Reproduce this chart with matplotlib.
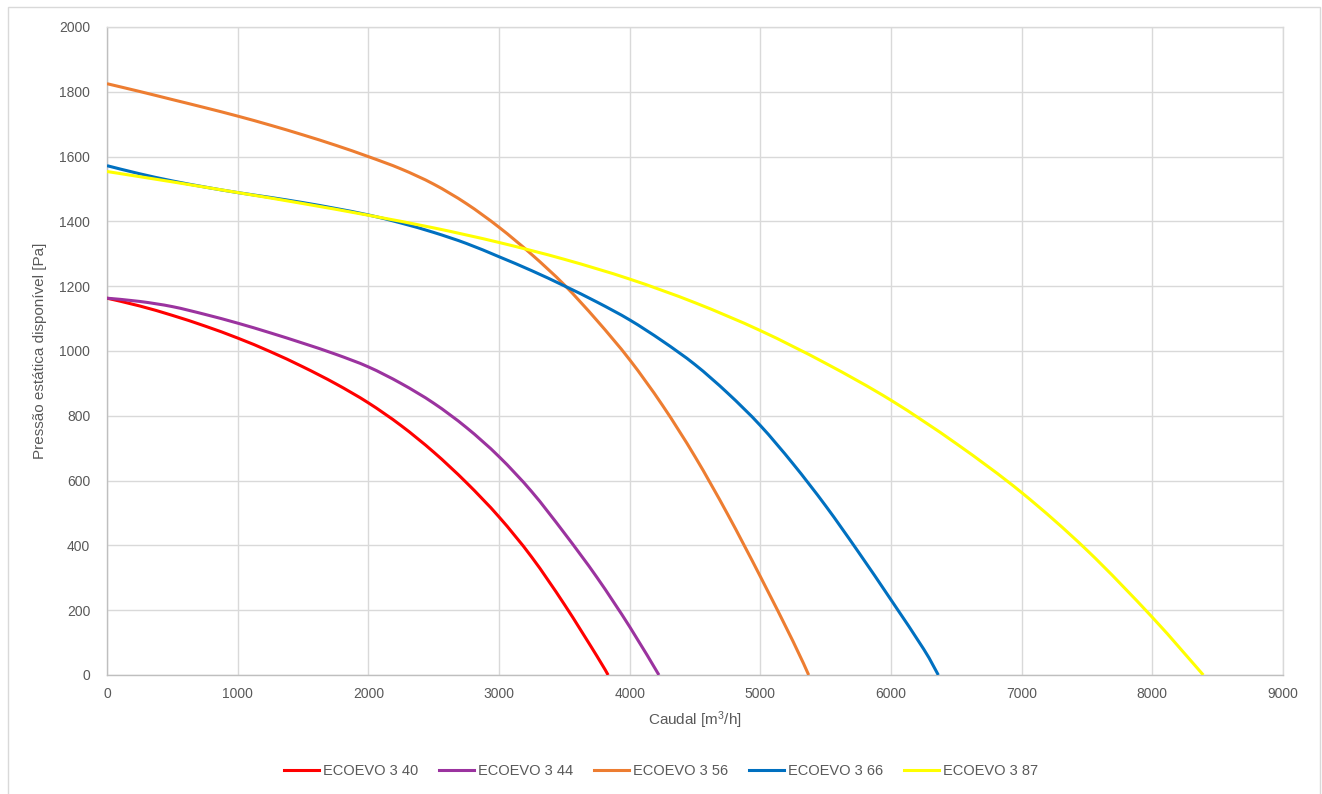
import matplotlib
matplotlib.use("Agg")
import matplotlib.pyplot as plt
from matplotlib.patches import Rectangle, PathPatch
from matplotlib.path import Path
from matplotlib.lines import Line2D

plt.rcParams['font.family'] = ['Liberation Sans', 'DejaVu Sans']

# ---- data ----
labels = ["ECOEVO 3 40", "ECOEVO 3 44", "ECOEVO 3 56", "ECOEVO 3 66", "ECOEVO 3 87"]
colors = ["#FF0000", "#9B339F", "#ED7D31", "#0070C0", "#FFFF00"]

q_40 = [0, 250, 500, 750, 1000, 1250, 1500, 1750, 2000, 2250, 2500, 2750, 3000, 3250, 3500, 3750, 3835]
p_40 = [1163, 1139, 1110, 1077, 1040, 998, 951, 899, 840, 770, 688, 594, 488, 364, 218, 58, 0]

q_44 = [0, 250, 500, 750, 1000, 1250, 1500, 1750, 2000, 2250, 2500, 2750, 3000, 3250, 3500, 3750, 4000, 4224]
p_44 = [1163, 1153, 1137, 1113, 1086, 1056, 1024, 990, 951, 900, 839, 764, 674, 566, 438, 301, 149, 0]

q_56 = [0, 250, 500, 750, 1000, 1250, 1500, 1750, 2000, 2250, 2500, 2750, 3000, 3250, 3500, 3750, 4000, 4250, 4500, 4750, 5000, 5250, 5370]
p_56 = [1825, 1801, 1776, 1751, 1725, 1697, 1667, 1635, 1600, 1562, 1515, 1455, 1382, 1298, 1204, 1094, 973, 833, 674, 496, 304, 104, 0]

q_66 = [0, 250, 500, 750, 1000, 1250, 1500, 1750, 2000, 2250, 2500, 2750, 3000, 3250, 3500, 3750, 4000, 4250, 4500, 4750, 5000, 5250, 5500, 5750, 6000, 6250, 6362]
p_66 = [1572, 1547, 1525, 1506, 1489, 1474, 1458, 1440, 1420, 1395, 1366, 1332, 1291, 1248, 1201, 1151, 1096, 1031, 958, 870, 770, 652, 522, 380, 232, 80, 0]

q_87 = [0, 500, 1000, 1500, 2000, 2500, 3000, 3500, 4000, 4500, 5000, 5500, 6000, 6500, 7000, 7500, 8000, 8390]
p_87 = [1554, 1522, 1489, 1455, 1419, 1380, 1335, 1283, 1222, 1149, 1063, 962, 848, 714, 563, 385, 178, 0]

series_q = [q_40, q_44, q_56, q_66, q_87]
series_p = [p_40, p_44, p_56, p_66, p_87]

x_ticks = [0, 1000, 2000, 3000, 4000, 5000, 6000, 7000, 8000, 9000]
y_ticks = [0, 200, 400, 600, 800, 1000, 1200, 1400, 1600, 1800, 2000]

xlabel = "Caudal [m$\\mathregular{^3}$/h]"
ylabel = "Pressão estática disponível [Pa]"


def smooth_path(xs, ys):
    """Smoothed line through the data points (Catmull-Rom as cubic Bezier)."""
    pts = list(zip(xs, ys))
    n = len(pts)
    verts = [pts[0]]
    codes = [Path.MOVETO]
    for i in range(n - 1):
        p0 = pts[i - 1] if i > 0 else pts[i]
        p1 = pts[i]
        p2 = pts[i + 1]
        p3 = pts[i + 2] if i + 2 < n else pts[i + 1]
        c1 = (p1[0] + (p2[0] - p0[0]) / 6.0, p1[1] + (p2[1] - p0[1]) / 6.0)
        c2 = (p2[0] - (p3[0] - p1[0]) / 6.0, p2[1] - (p3[1] - p1[1]) / 6.0)
        verts += [c1, c2, p2]
        codes += [Path.CURVE4] * 3
    return Path(verts, codes)


# ---- figure ----
W, H = 1322, 794
fig = plt.figure(figsize=(W / 100, H / 100), dpi=100)
ax = fig.add_axes([107 / W, 1 - 675 / H, (1283 - 107) / W, (675 - 27) / H])

text_col = "#595959"
grid_col = "#D9D9D9"

handles = []
for q, p, c, lab in zip(series_q, series_p, colors, labels):
    patch = PathPatch(smooth_path(q, p), facecolor='none', edgecolor=c, lw=2.2,
                      transform=ax.transData, zorder=3, capstyle='butt')
    ax.add_patch(patch)
    handles.append(Line2D([], [], color=c, lw=2.2, label=lab))

ax.set_xlim(0, 9000)
ax.set_ylim(0, 2000)
ax.set_xticks(x_ticks)
ax.set_yticks(y_ticks)
ax.grid(True, color=grid_col, lw=1)
ax.set_axisbelow(True)
for s in ax.spines.values():
    s.set_color(grid_col)
    s.set_linewidth(1)
ax.spines['left'].set_color("#BFBFBF")
ax.spines['bottom'].set_color("#BFBFBF")
ax.tick_params(axis='both', length=0, labelsize=10, labelcolor=text_col)
ax.tick_params(axis='x', pad=9)
ax.tick_params(axis='y', pad=12)

ax.set_xlabel(xlabel, fontsize=11, color=text_col, labelpad=6)
ax.set_ylabel(ylabel, fontsize=11, color=text_col, labelpad=9)

fig.legend(handles=handles, loc='center', bbox_to_anchor=(0.5, 1 - 771 / H),
           bbox_transform=fig.transFigure, ncol=5, frameon=False, fontsize=10.5,
           handlelength=2.4, handletextpad=0.3, columnspacing=1.4, labelcolor=text_col)

fig.patches.append(Rectangle((8 / W, -0.05), (1320 - 8) / W, 1.05 - 7 / H,
                             transform=fig.transFigure, fill=False,
                             edgecolor=grid_col, lw=1))

fig.savefig("out.png", dpi=100, facecolor="white")
